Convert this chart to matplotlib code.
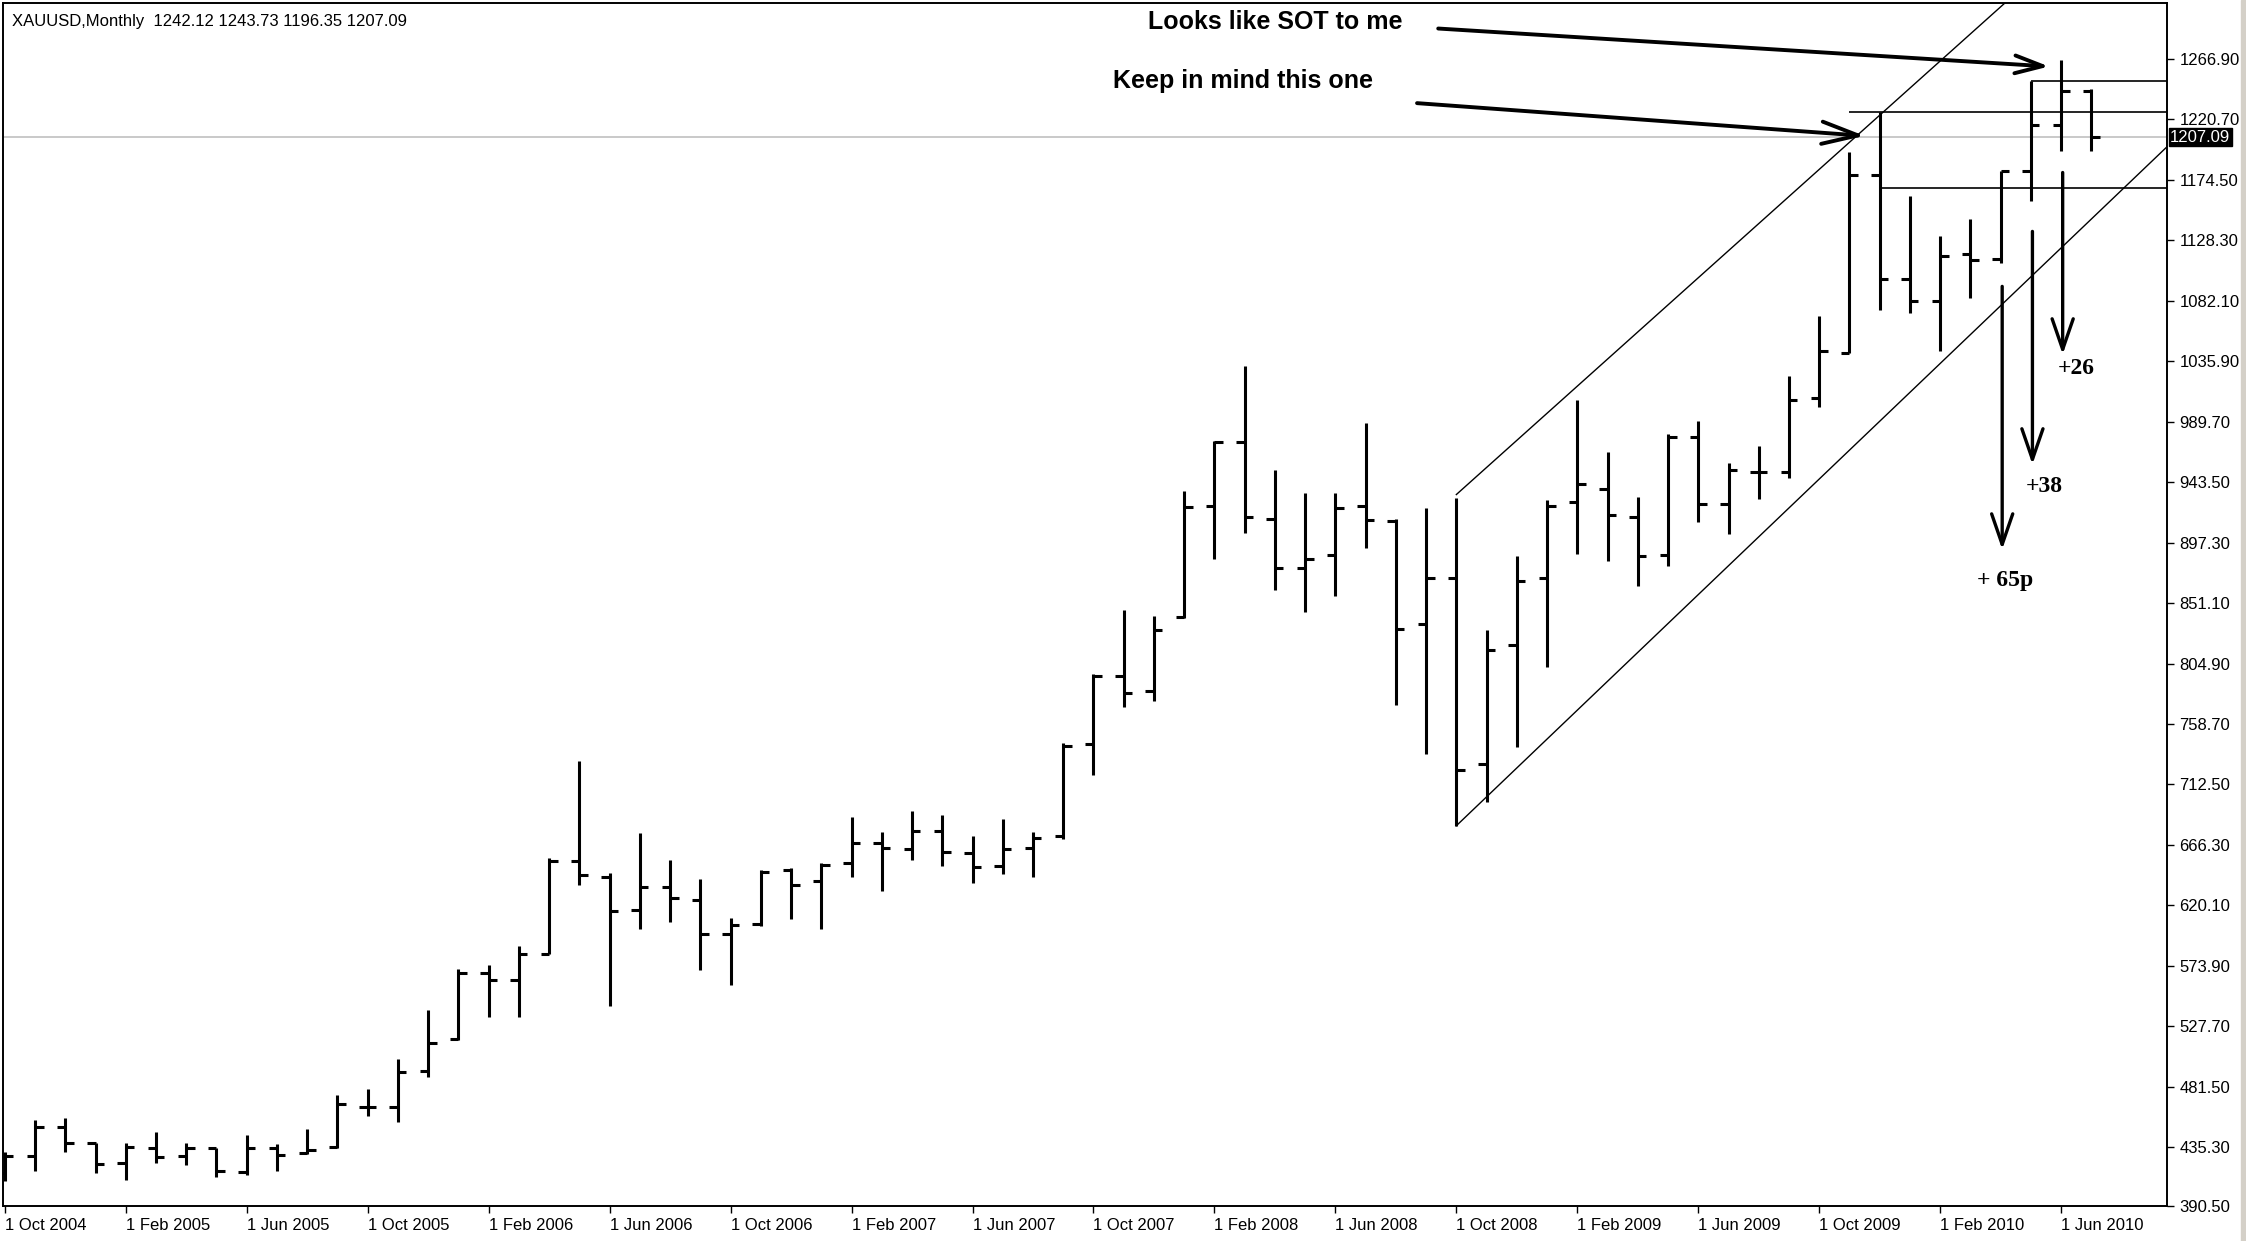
import matplotlib
matplotlib.use("Agg")
import matplotlib.pyplot as plt
from matplotlib import font_manager
import pandas as pd

# monthly XAUUSD bars, Oct 2004 .. Jul 2010
opens = [415.5, 429.0, 450.5, 438.5, 423.0, 434.5, 428.5, 434.5, 416.5, 435.0,
         431.0, 435.5, 466.5, 466.0, 493.5, 518.0, 568.5, 563.0, 583.0, 654.0,
         641.5, 617.0, 634.0, 624.0, 598.5, 606.0, 647.0, 638.5, 652.5, 668.0,
         663.0, 677.0, 660.0, 650.0, 664.0, 673.0, 743.5, 795.5, 784.0, 840.5,
         925.5, 974.0, 915.5, 878.0, 888.0, 925.5, 913.5, 835.0, 870.5, 728.0,
         819.0, 870.0, 928.5, 938.5, 917.0, 887.5, 978.0, 926.5, 951.5, 951.5,
         1008.0, 1042.0, 1178.0, 1098.5, 1081.5, 1118.0, 1114.0, 1181.0, 1216.5, 1242.12]
highs = [432.0, 456.0, 457.5, 439.0, 438.5, 447.0, 439.0, 435.0, 444.5, 437.5,
         449.5, 475.0, 479.5, 503.0, 540.5, 571.5, 574.5, 589.5, 656.0, 730.5,
         645.0, 675.5, 655.0, 640.0, 610.5, 647.5, 648.5, 652.5, 687.5, 676.5,
         692.5, 689.5, 673.5, 686.5, 676.5, 744.0, 797.0, 845.5, 841.5, 936.5,
         975.0, 1032.0, 952.5, 935.0, 935.0, 988.5, 915.5, 924.0, 931.0, 830.5,
         887.0, 929.5, 1006.0, 966.5, 932.0, 980.0, 990.0, 958.0, 971.0, 1024.5,
         1070.5, 1195.5, 1226.5, 1162.0, 1131.5, 1144.5, 1181.5, 1250.0, 1266.0, 1243.73]
lows = [409.5, 417.0, 431.5, 415.5, 410.0, 423.0, 421.5, 412.5, 414.0, 417.0,
        430.0, 435.0, 459.0, 454.5, 489.0, 517.0, 534.5, 534.5, 583.0, 636.0,
        543.0, 602.0, 607.5, 570.5, 559.0, 604.5, 610.0, 602.0, 641.5, 631.5,
        654.5, 650.0, 637.5, 644.0, 641.5, 670.5, 719.5, 772.0, 776.0, 839.5,
        885.0, 905.0, 861.0, 844.5, 856.5, 893.0, 773.0, 735.5, 681.0, 699.5,
        741.5, 802.0, 888.5, 883.0, 864.0, 879.5, 913.0, 904.0, 930.5, 946.5,
        1001.0, 1042.0, 1075.0, 1073.0, 1044.0, 1084.5, 1111.0, 1158.0, 1196.5, 1196.35]
closes = [428.5, 450.5, 438.5, 422.5, 435.5, 428.0, 434.5, 417.5, 435.0, 429.5,
          433.5, 468.5, 466.0, 492.5, 515.0, 568.5, 563.0, 583.0, 654.0, 643.0,
          615.5, 634.0, 625.5, 598.5, 605.0, 646.0, 636.0, 651.0, 668.0, 664.0,
          677.0, 661.0, 649.5, 663.0, 671.5, 742.0, 795.0, 782.5, 830.5, 924.5,
          974.0, 917.0, 878.0, 885.0, 924.0, 914.5, 831.5, 870.5, 723.5, 815.5,
          868.0, 925.5, 942.0, 918.5, 887.0, 978.0, 926.5, 952.5, 951.5, 1006.5,
          1044.0, 1178.0, 1099.0, 1082.0, 1116.5, 1113.0, 1181.0, 1216.5, 1242.5, 1207.09]

months = pd.date_range("2004-10-01", periods=len(opens), freq="MS")
date_ticks = list(range(0, len(opens), 4))
date_labels = [f"1 {months[i]:%b %Y}" for i in date_ticks]

price_ticks = [round(1266.90 - 46.2 * k, 2) for k in range(19)] + [390.50]
last_price = 1207.09
header = "XAUUSD,Monthly  1242.12 1243.73 1196.35 1207.09"

# hand drawn objects (bar index, price)
channel_x = [48, 72]
channel_top = [934.0, 1430.8]
channel_bottom = [681.0, 1210.7]
levels = [1250.0, 1226.5, 1168.0]
level_start = [67, 61, 62]
drop_x = [66.05, 67.05, 68.05]
drop_from = [1093.0, 1135.0, 1180.0]
drop_to = [892.0, 957.0, 1041.0]
drop_text = ["+ 65p", "+38", "+26"]
drop_text_x = [66.15, 67.45, 68.5]
drop_text_y = [868.0, 940.0, 1030.0]
notes = ["Looks like SOT to me", "Keep in mind this one"]
note_pos = [(42.0, 1295.0), (40.95, 1250.0)]
note_tail = [(47.4, 1290.0), (46.7, 1233.0)]
note_tip = [(67.6, 1261.0), (61.5, 1208.0)]

names = {f.name for f in font_manager.fontManager.ttflist}
narrow = "Liberation Sans Narrow" if "Liberation Sans Narrow" in names else "Liberation Sans"
note_size = 22 if narrow == "Liberation Sans Narrow" else 18

plt.rcParams["font.family"] = ["Liberation Sans", "DejaVu Sans"]

fig = plt.figure(figsize=(22.46, 12.41), dpi=100)
ax = fig.add_axes([3 / 2246, 1 - 1206 / 1241, 2164 / 2246, 1203 / 1241])
ax.set_xlim(-0.06, 71.5)
ax.set_ylim(390.5, 1309.5)

x = list(range(len(opens)))
t = 0.28
ax.vlines(x, lows, highs, color="black", lw=2.2)
ax.hlines(opens, [i - t for i in x], x, color="black", lw=2.2)
ax.hlines(closes, x, [i + t for i in x], color="black", lw=2.2)

ax.axhline(last_price, color="#c0c0c0", lw=1.2, zorder=0)

ax.plot(channel_x, channel_top, color="black", lw=1.0)
ax.plot(channel_x, channel_bottom, color="black", lw=1.0)
for y, s in zip(levels, level_start):
    ax.hlines(y, s, 71.5, color="black", lw=1.2)

for xx, y0, y1, lab, tx, ty in zip(drop_x, drop_from, drop_to, drop_text, drop_text_x, drop_text_y):
    ax.annotate("", xy=(xx, y1), xytext=(xx, y0),
                arrowprops=dict(arrowstyle="->,head_length=1.1,head_width=0.38",
                                lw=2.4, color="black", mutation_scale=20,
                                shrinkA=0, shrinkB=0))
    ax.text(tx, ty, lab, ha="center", va="center", fontsize=17,
            fontweight="bold", family=["Liberation Serif", "DejaVu Serif"])

head_specs = ["->,head_length=1.0,head_width=0.32", "->,head_length=1.3,head_width=0.4"]
for txt, pos, tail, tip, hs in zip(notes, note_pos, note_tail, note_tip, head_specs):
    ax.text(pos[0], pos[1], txt, ha="center", va="center", fontsize=note_size,
            fontweight="bold", family=[narrow, "DejaVu Sans"])
    ax.annotate("", xy=tip, xytext=tail,
                arrowprops=dict(arrowstyle=hs, lw=2.8, color="black",
                                mutation_scale=20, shrinkA=0, shrinkB=0))

ax.text(0.004, 0.985, header, transform=ax.transAxes, fontsize=12,
        ha="left", va="center")

ax.yaxis.tick_right()
ax.set_yticks(price_ticks)
ax.set_yticklabels([f"{p:.2f}" for p in price_ticks])
ax.set_xticks(date_ticks)
ax.set_xticklabels(date_labels, ha="left")
ax.tick_params(axis="both", direction="out", length=5, width=1, labelsize=12,
               colors="black")
ax.tick_params(axis="y", pad=4)
ax.tick_params(axis="x", pad=4)

ax.text(1.0015, last_price, f"{last_price:.2f}", transform=ax.get_yaxis_transform(),
        ha="left", va="center", fontsize=12, color="white", zorder=10,
        bbox=dict(facecolor="black", edgecolor="black", pad=1.2), clip_on=False)

for s in ax.spines.values():
    s.set_color("black")
    s.set_linewidth(1.4)

fig.patches.append(plt.Rectangle((2241 / 2246, 0), 5 / 2246, 1, transform=fig.transFigure,
                                 color="#d4d0c8", zorder=0))

fig.savefig("out.png", dpi=100, facecolor="white")
